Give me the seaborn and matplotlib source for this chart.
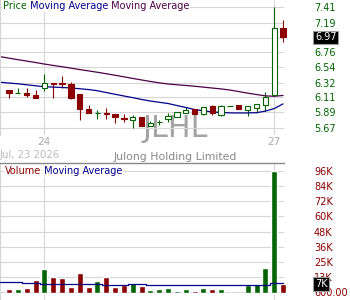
import matplotlib
matplotlib.use("Agg")
import matplotlib.pyplot as plt
import seaborn as sns
import numpy as np
import pandas as pd
from matplotlib.transforms import blended_transform_factory

sns.set_style("white")
plt.rcParams["font.family"] = ["DejaVu Sans"]

# ---------------- data ----------------
ticker = "JLHL"
company = "Julong Holding Limited"
date_label = "Jul, 23 2026"
x_tick_pos = [4, 30]
x_tick_labels = ["24", "27"]

opens = [6.215, 6.165, 6.176, 6.143, 6.240, 6.321, 6.321, 6.302, 6.157, 5.936,
         5.878, 5.883, 5.868, 5.815, 5.781, 5.820, 5.699, 5.745, 5.791, 5.825,
         5.883, 5.940, 5.868, 5.980, 5.858, 5.985, 6.003, 5.930, 5.955, 6.003,
         6.147, 7.108]
highs = [6.215, 6.240, 6.240, 6.215, 6.447, 6.321, 6.422, 6.335, 6.157, 5.998,
         5.926, 5.951, 5.868, 5.864, 5.854, 5.820, 5.767, 5.781, 5.878, 5.897,
         5.965, 5.940, 5.965, 5.998, 5.998, 5.988, 6.003, 5.980, 6.013, 6.186,
         7.420, 7.228]
lows = [6.104, 6.165, 6.118, 6.104, 6.205, 6.104, 6.249, 6.081, 5.781, 5.887,
        5.796, 5.796, 5.734, 5.757, 5.661, 5.699, 5.699, 5.709, 5.757, 5.825,
        5.883, 5.872, 5.854, 5.854, 5.839, 5.985, 5.945, 5.835, 5.883, 5.907,
        6.147, 6.914]
closes = [6.176, 6.169, 6.143, 6.104, 6.312, 6.306, 6.306, 6.104, 5.945, 5.887,
          5.887, 5.873, 5.829, 5.791, 5.820, 5.699, 5.734, 5.750, 5.839, 5.897,
          5.930, 5.872, 5.965, 5.883, 5.980, 5.988, 5.945, 5.980, 6.013, 6.114,
          7.108, 6.977]
volumes = [3000, 3000, 3800, 10100, 18700, 12400, 11600, 4500, 15600, 4500,
           9300, 12400, 4500, 6100, 7700, 5300, 2200, 3000, 3800, 1400,
           3000, 1400, 3800, 3000, 3000, 0, 0, 6100, 6900, 19500,
           96000, 7000]
# moving averages: first value sits one bar before the first candle
price_ma_short = [6.327, 6.315, 6.305, 6.290, 6.276, 6.262, 6.257, 6.251, 6.244, 6.233,
                  6.221, 6.204, 6.178, 6.153, 6.128, 6.104, 6.078, 6.055, 6.037, 6.019,
                  5.990, 5.962, 5.932, 5.914, 5.897, 5.890, 5.884, 5.883, 5.883, 5.887,
                  5.909, 5.946, 6.014]
price_ma_long = [6.697, 6.675, 6.653, 6.633, 6.612, 6.590, 6.570, 6.551, 6.531, 6.510,
                 6.491, 6.471, 6.450, 6.428, 6.405, 6.382, 6.360, 6.338, 6.318, 6.302,
                 6.290, 6.280, 6.269, 6.256, 6.243, 6.230, 6.214, 6.192, 6.169, 6.149,
                 6.130, 6.124, 6.136]
volume_ma = [8500, 8500, 8500, 7700, 7700, 6900, 6900, 6900, 6900, 6900,
             6900, 6900, 6100, 6100, 6100, 6900, 6900, 5800, 5800, 5800,
             5800, 5800, 5800, 5800, 5800, 5800, 5800, 5800, 5800, 5800,
             5800, 7700, 7700]
price_tick_labels = ["5.67", "5.89", "6.11", "6.32", "6.54", "6.76", "6.97", "7.19", "7.41"]
volume_tick_labels = ["600.00", "13K", "25K", "36K", "48K", "60K", "72K", "84K", "96K"]
last_price_label = "6.97"
last_volume_label = "7K"

# ---------------- style ----------------
GREEN = "#006400"
RED = "#8b0000"
BLUE = "#00008b"
PURPLE = "#4b0046"
GRID = "#d6d6d6"
FS = 7

W, H = 350, 300
fig = plt.figure(figsize=(W / 100, H / 100), dpi=100)


def px_axes(left, top, right, bottom):
    return fig.add_axes([left / W, 1 - bottom / H, (right - left) / W, (bottom - top) / H])


axp = px_axes(0, 0, 284, 135)
axv = px_axes(0, 162.5, 284, 300)

n = len(opens)
idx = np.arange(n)
ma_pos = np.arange(-1, n)
up = [c >= o for o, c in zip(opens, closes)]
cols = [GREEN if u else RED for u in up]

df = pd.DataFrame({"i": idx, "volume": volumes,
                   "dir": ["up" if u else "down" for u in up]})

# ---------------- price panel ----------------
axp.vlines(idx, lows, highs, colors=cols, linewidth=0.8, zorder=2)
bottoms = [min(o, c) for o, c in zip(opens, closes)]
heights = [max(abs(c - o), 0.002) for o, c in zip(opens, closes)]
bars = axp.bar(idx, heights, bottom=bottoms, width=0.6,
               color=["white" if u else RED for u in up],
               edgecolor=cols, linewidth=0.8, zorder=3)
for b in bars:
    b.set_clip_on(False)

sns.lineplot(x=ma_pos, y=price_ma_long, ax=axp, color=PURPLE, linewidth=0.9, zorder=2.5)
sns.lineplot(x=ma_pos, y=price_ma_short, ax=axp, color=BLUE, linewidth=0.9, zorder=2.5)

axp.set_xlim(-1.018, 31.11)
axp.set_ylim(5.564, 7.516)
pvals = [float(v) for v in price_tick_labels]
axp.yaxis.tick_right()
axp.set_yticks(pvals, [("" if l == last_price_label else l) for l in price_tick_labels])
axp.tick_params(axis="y", length=0, pad=21.6, labelsize=FS, labelcolor=GREEN)
axp.set_xticks(x_tick_pos, x_tick_labels)
axp.tick_params(axis="x", length=0, pad=1.5, labelsize=7.5, labelcolor="#aaaaaa")
axp.grid(True, color=GRID, linewidth=0.8)
axp.set_xlabel("")
axp.set_ylabel("")
for s in ["top", "right", "bottom"]:
    axp.spines[s].set_visible(False)
axp.spines["left"].set_color(GRID)
axp.spines["left"].set_linewidth(0.8)

axp.text(175 / 284, 1 - 137 / 135, ticker, transform=axp.transAxes, fontsize=21.7,
         color="#a3a3a3", ha="center", va="baseline", zorder=0.3)

trp = blended_transform_factory(axp.transAxes, axp.transData)
axp.text(315 / 284, closes[-1], last_price_label, transform=trp, fontsize=FS,
         color="white", ha="left", va="center", zorder=6,
         bbox=dict(boxstyle="square,pad=0.18", fc="black", ec="#9a9a9a", lw=0.8))

WB = dict(fc="white", ec="none", pad=0.4)


def chain_title(ax, x, y, parts):
    t = ax.text(x, y, parts[0][0], transform=ax.transAxes, color=parts[0][1],
                fontsize=FS, ha="left", va="center", bbox=WB, zorder=5)
    for txt, c in parts[1:]:
        t = ax.annotate(txt, xy=(1, 0), xycoords=t, ha="left", va="bottom",
                        color=c, fontsize=FS, bbox=WB, zorder=5)
    return t


chain_title(axp, 3 / 284, 1 - 6.3 / 135,
            [("Price", GREEN), (" Moving Average", BLUE), (" Moving Average", PURPLE)])

# ---------------- volume panel ----------------
sns.barplot(data=df, x="i", y="volume", hue="dir", palette={"up": GREEN, "down": RED},
            native_scale=True, dodge=False, width=0.68, saturation=1,
            legend=False, ax=axv, zorder=3)
for p in axv.patches:
    p.set_clip_on(False)
sns.lineplot(x=ma_pos, y=volume_ma, ax=axv, color=BLUE, linewidth=0.9,
             drawstyle="steps-mid", zorder=4)

axv.set_xlim(-1.018, 31.11)
vlo, vhi = 600, 96000
step = (vhi - vlo) / 121.0
axv.set_ylim(vlo - 8 * step, vhi + 8.5 * step)
axv.yaxis.tick_right()
axv.set_yticks(np.linspace(vlo, vhi, len(volume_tick_labels)), volume_tick_labels)
axv.tick_params(axis="y", length=0, pad=21.6, labelsize=FS, labelcolor=RED)
axv.set_xticks(x_tick_pos, ["" for _ in x_tick_pos])
axv.tick_params(axis="x", length=0)
axv.grid(True, color=GRID, linewidth=0.8)
axv.set_xlabel("")
axv.set_ylabel("")
for s in ["right", "bottom"]:
    axv.spines[s].set_visible(False)
axv.spines["top"].set_color("#8a8a8a")
axv.spines["top"].set_linewidth(1.0)
axv.spines["left"].set_color(GRID)
axv.spines["left"].set_linewidth(0.8)

trv = blended_transform_factory(axv.transAxes, axv.transData)
axv.text(315 / 284, volumes[-1], last_volume_label, transform=trv, fontsize=FS,
         color="white", ha="left", va="center", zorder=6,
         bbox=dict(boxstyle="square,pad=0.18", fc="black", ec="#9a9a9a", lw=0.8))

chain_title(axv, 5 / 284, 1 - 8.5 / 137.5, [("Volume", RED), (" Moving Average", BLUE)])

# ---------------- middle texts ----------------
fig.text(0 / W, 1 - 157.5 / H, date_label, fontsize=7.3, color="#bbbbbb",
         ha="left", va="baseline")
fig.text(175 / W, 1 - 160 / H, company, fontsize=7.8, color="#888888",
         ha="center", va="baseline")

fig.savefig("out.png", dpi=100)
